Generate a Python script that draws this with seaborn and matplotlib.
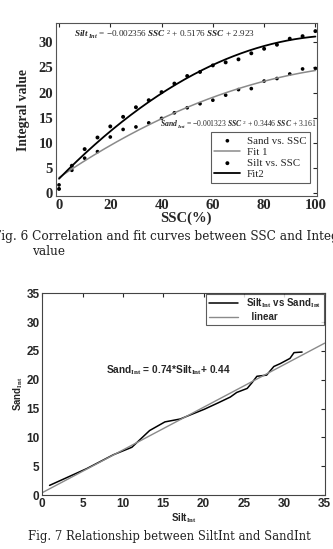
import numpy as np
import pandas as pd
import matplotlib
matplotlib.use("Agg")
import matplotlib.pyplot as plt
import seaborn as sns

sns.set_style("white")
plt.rcParams["mathtext.fontset"] = "custom"
plt.rcParams["mathtext.rm"] = "Liberation Serif"
plt.rcParams["mathtext.it"] = "Liberation Serif:italic:bold"
plt.rcParams["mathtext.bf"] = "Liberation Serif:bold"

# SSC (%) and integral values
ssc = [0, 5, 10, 15, 20, 25, 30, 35, 40, 45, 50, 55, 60, 65, 70, 75, 80, 85, 90, 95, 100]
silt = [0.9, 5.5, 8.8, 11.1, 13.3, 15.2, 17.1, 18.5, 20.1, 21.8, 23.3, 24.1, 25.4,
        26.0, 26.6, 27.8, 28.7, 29.5, 30.7, 31.2, 32.2]
sand = [1.7, 4.6, 7.0, 8.3, 11.2, 12.7, 13.2, 14.0, 14.9, 16.0, 17.0, 17.8, 18.5,
        19.5, 20.6, 20.8, 22.3, 22.8, 23.7, 24.7, 24.8]

# fit coefficients printed on the chart
silt_fit = [-0.002356, 0.5176, 2.923]
sand_fit = [-0.001323, 0.3446, 3.161]
lin_fit = [0.74, 0.44]

df = pd.DataFrame({"ssc": ssc, "silt": silt, "sand": sand})
xfit = np.linspace(0, 100, 201)
xlin = np.linspace(0, 35, 50)

fig = plt.figure(figsize=(3.33, 5.49), dpi=100)
serif = "Liberation Serif"
sans = "Liberation Sans"

# ---- Fig. 6 ----
ax1 = fig.add_axes([0.168, 0.643, 0.783, 0.315])
sns.scatterplot(x="ssc", y="sand", data=df, ax=ax1, color="black", s=7,
                edgecolor="none", label="Sand vs. SSC")
sns.lineplot(x=xfit, y=np.polyval(sand_fit, xfit), ax=ax1, color="#8a8a8a",
             lw=1.1, label="Fit 1")
sns.scatterplot(x="ssc", y="silt", data=df, ax=ax1, color="black", s=8,
                edgecolor="none", label="Silt vs. SSC")
sns.lineplot(x=xfit, y=np.polyval(silt_fit, xfit), ax=ax1, color="black",
             lw=1.3, label="Fit2")
ax1.set_xlim(-1.2, 100.5)
ax1.set_ylim(-0.5, 33.8)
ax1.set_xticks(range(0, 101, 20))
ax1.set_yticks(range(0, 31, 5))
ax1.tick_params(direction="in", length=3, top=True, right=True, pad=2,
                labelsize=10.5)
for lab in ax1.get_xticklabels() + ax1.get_yticklabels():
    lab.set_fontfamily(serif)
    lab.set_fontweight("bold")
ax1.set_xlabel("SSC(%)", fontfamily=serif, fontweight="bold", fontsize=10.5, labelpad=0)
ax1.set_ylabel("Integral value", fontfamily=serif, fontweight="bold", fontsize=9.8,
               labelpad=6)
for sp in ax1.spines.values():
    sp.set_color("#555555")
    sp.set_linewidth(0.8)
ax1.text(0.07, 0.93, r"$Silt_{\ Int}$ = $-$0.002356 $SSC^{\ 2}$ + 0.5176 $SSC$ + 2.923",
         transform=ax1.transAxes, fontfamily=serif, fontsize=6.6, va="center")
ax1.text(0.4, 0.41, r"$Sand_{\ Int}$ = $-$0.001323 $SSC^{\ 2}$ + 0.3446 $SSC$ + 3.161",
         transform=ax1.transAxes, fontfamily=serif, fontsize=5.5, va="center")
leg1 = ax1.legend(loc="lower right", bbox_to_anchor=(0.975, 0.075), borderaxespad=0,
                  prop={"family": serif, "size": 7.8}, frameon=True, fancybox=False,
                  handlelength=2.4, labelspacing=0.15, borderpad=0.35, markerscale=1.0,
                  handletextpad=0.6)
leg1.get_frame().set_edgecolor("#333333")
leg1.get_frame().set_linewidth(0.8)

fig.text(-0.02, 0.570, "Fig. 6 Correlation and fit curves between SSC and Integral value",
         fontfamily="DejaVu Serif", fontsize=8.7, va="center", color="#222222")
fig.text(0.095, 0.541, "value", fontfamily="DejaVu Serif", fontsize=8.7, va="center",
         color="#222222")

# ---- Fig. 7 ----
ax2 = fig.add_axes([0.127, 0.098, 0.848, 0.368])
sns.lineplot(x="silt", y="sand", data=df, ax=ax2, color="black", lw=1.1, sort=False,
             label=r"Silt$_{\mathbf{Int}}$ vs Sand$_{\mathbf{Int}}$")
sns.lineplot(x=xlin, y=np.polyval(lin_fit, xlin), ax=ax2, color="#8a8a8a", lw=1.0,
             label="  linear")
ax2.set_xlim(0, 35)
ax2.set_ylim(0, 35)
ax2.set_xticks(range(0, 36, 5))
ax2.set_yticks(range(0, 36, 5))
ax2.tick_params(direction="in", length=3, top=True, right=True, pad=2, labelsize=8.5)
for lab in ax2.get_xticklabels() + ax2.get_yticklabels():
    lab.set_fontfamily(sans)
    lab.set_fontweight("bold")
ax2.set_xlabel(r"Silt$_{\mathbf{Int}}$", fontfamily=sans, fontweight="bold", fontsize=7,
               labelpad=1)
ax2.set_ylabel(r"Sand$_{\mathbf{Int}}$", fontfamily=sans, fontweight="bold", fontsize=7,
               labelpad=1)
for sp in ax2.spines.values():
    sp.set_color("#444444")
    sp.set_linewidth(0.8)
ax2.text(0.225, 0.62, r"Sand$_{\mathbf{Int}}$ = 0.74*Silt$_{\mathbf{Int}}$+ 0.44",
         transform=ax2.transAxes, fontfamily=sans, fontweight="bold", fontsize=7.3,
         va="center")
leg2 = ax2.legend(loc="upper right", borderaxespad=0.05,
                  prop={"family": sans, "weight": "bold", "size": 7}, frameon=True,
                  fancybox=False, handlelength=3, labelspacing=0.2, borderpad=0.3)
leg2.get_frame().set_edgecolor("#333333")
leg2.get_frame().set_linewidth(0.8)

fig.text(0.51, 0.022, "Fig. 7 Relationship between SiltInt and SandInt",
         fontfamily="DejaVu Serif", fontsize=8.4, va="center", ha="center",
         color="#222222")

fig.savefig("out.png", dpi=100)
